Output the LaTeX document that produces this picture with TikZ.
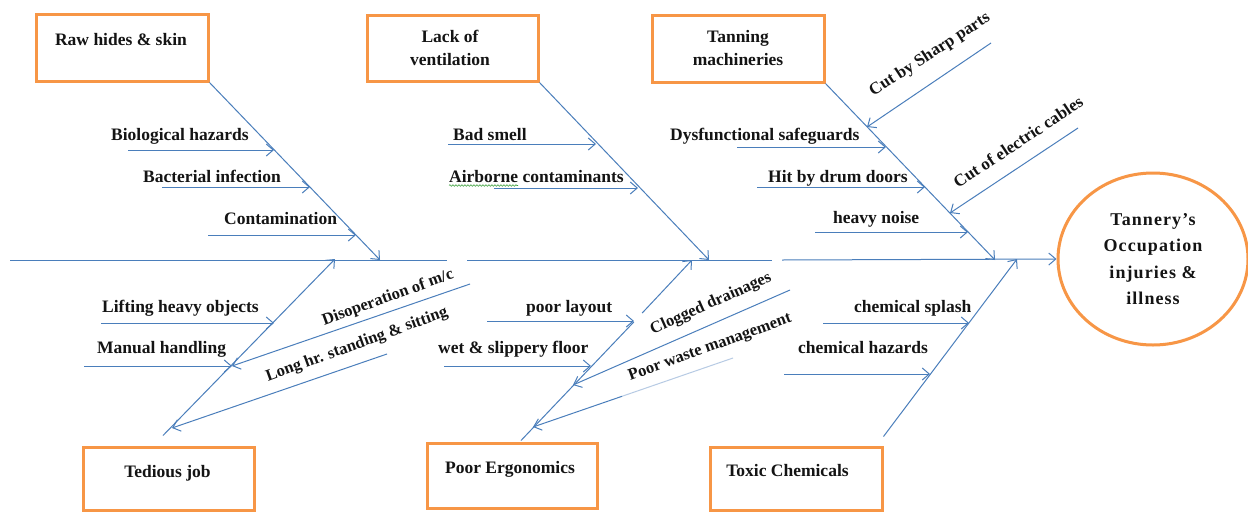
\documentclass[tikz,border=0pt]{standalone}
\usepackage{fontspec}
\setmainfont{Liberation Serif}
\newfontfamily\spacedfont[LetterSpace=6]{Liberation Serif}
\usetikzlibrary{arrows.meta,shapes.geometric,decorations.pathmorphing,calc}
\definecolor{bonec}{RGB}{74,126,187}
\definecolor{orng}{RGB}{247,150,70}
\definecolor{txt}{RGB}{20,20,20}
\definecolor{squig}{RGB}{60,160,60}
\begin{document}
\begin{tikzpicture}[x=1pt,y=-1pt,
  catbox/.style={draw=orng, line width=3pt, inner sep=0pt},
  lbl/.style={font=\fontsize{17.5}{21}\selectfont\bfseries, inner sep=0pt, text=txt},
  rlbl/.style={font=\fontsize{16.5}{20}\selectfont\bfseries, inner sep=0pt, text=txt},
  clbl/.style={font=\fontsize{17}{20}\selectfont\bfseries, inner sep=0pt, text=txt},
  bonel/.style={draw=bonec, line width=1pt},
  barrow/.style={bonel, -{Straight Barb[length=7pt,width=12pt]}}]
\useasboundingbox (0,0) rectangle (1248,512);
\fill[white] (0,0) rectangle (1248,512);

% category boxes
\node[catbox, minimum width=172pt, minimum height=67pt] (raw) at (122,47.5) {};
\node[lbl, anchor=base] (rawt) at (121,45) {Raw hides \& skin};
\node[catbox, minimum width=171pt, minimum height=66pt] (vent) at (452.5,48) {};
\node[lbl, anchor=base] (ventt1) at (450,42) {Lack of};
\node[lbl, anchor=base] (ventt2) at (450,65) {ventilation};
\node[catbox, minimum width=172pt, minimum height=67pt] (tan) at (738,48.5) {};
\node[lbl, anchor=base] (tant1) at (738,42) {Tanning};
\node[lbl, anchor=base] (tant2) at (738,65) {machineries};
\node[catbox, minimum width=171pt, minimum height=63pt] (ted) at (168.5,478.5) {};
\node[lbl, anchor=base] (tedt) at (167.5,477) {Tedious job};
\node[catbox, minimum width=170pt, minimum height=65pt] (pe) at (512,475.5) {};
\node[lbl, anchor=base] (pet) at (510,473) {Poor Ergonomics};
\node[catbox, minimum width=172pt, minimum height=63pt] (tox) at (796,478.5) {};
\node[lbl, anchor=base] (toxt) at (787.5,476) {Toxic Chemicals};

% effect
\node[draw=orng, line width=3pt, ellipse, minimum width=190pt, minimum height=172pt,
      inner sep=0pt, align=center, text=txt,
      font=\fontsize{18}{26.3}\selectfont\spacedfont\bfseries] (ell) at (1153,259)
      {Tannery’s\\Occupation\\injuries \&\\illness};

% spine
\coordinate (sp0) at (10,260);
\coordinate (g1a) at (447,260); \coordinate (g1b) at (467,260);
\coordinate (g2a) at (772,260); \coordinate (g2b) at (782,260);
\draw[bonel] (sp0) -- (g1a);
\draw[bonel] (g1b) -- (g2a);
\draw[barrow] (g2b) -- (ell.west);

% main bones
\coordinate (rawtip) at (380,260);
\draw[barrow] (raw.south east) -- (rawtip);
\coordinate (venttip) at (709,260);
\draw[barrow] (vent.south east) -- (venttip);
\coordinate (tantip) at (995,260);
\draw[barrow] (tan.south east) -- (tantip);
\coordinate (ted0) at ($(ted.north)+(-5.5,-10)$);
\coordinate (tedtip) at (335,259);
\draw[barrow] (ted0) -- (tedtip);
\coordinate (pe0) at ($(pe.north)+(9,-1)$);
\coordinate (peg1) at (633.8,322); \coordinate (peg2) at (642.2,313);
\coordinate (petip) at (692,260);
\draw[bonel] (pe0) -- (peg1);
\draw[barrow] (peg2) -- (petip);
\coordinate (tox0) at ($(tox.north east)+(0,-9)$);
\coordinate (toxtip) at (1017,259);
\draw[barrow] (tox0) -- (toxtip);

% Raw hides sub-causes
\coordinate (b1s) at (128,150); \coordinate (b1t) at (274,150);
\draw[barrow] (b1s) -- (b1t);
\node[lbl, anchor=base west] (b1) at (111,140) {Biological hazards};
\coordinate (b2s) at (162,187); \coordinate (b2t) at (310,187);
\draw[barrow] (b2s) -- (b2t);
\node[lbl, anchor=base west] (b2) at (143,182) {Bacterial infection};
\coordinate (b3s) at (208,235); \coordinate (b3t) at (356,235);
\draw[barrow] (b3s) -- (b3t);
\node[lbl, anchor=base west] (b3) at (224,224) {Contamination};

% ventilation sub-causes
\coordinate (v1s) at (448,144); \coordinate (v1t) at (596,144);
\draw[barrow] (v1s) -- (v1t);
\node[lbl, anchor=base west] (v1) at (453,140) {Bad smell};
\coordinate (v2s) at (494,188); \coordinate (v2t) at (638,188);
\draw[barrow] (v2s) -- (v2t);
\node[lbl, anchor=base west] (v2) at (449,182) {Airborne contaminants};
\coordinate (sq0) at (449,185.5); \coordinate (sq1) at (518,185.5);
\draw[squig, line width=0.6pt, decorate, decoration={snake, amplitude=0.8pt, segment length=3pt}] (sq0) -- (sq1);

% tanning sub-causes
\coordinate (t0s) at (991,43); \coordinate (t0t) at (867,127);
\draw[barrow] (t0s) -- (t0t);
\node[clbl, rotate=33] (t0) at (930,55) {Cut by Sharp parts};
\coordinate (t1s) at (737,147); \coordinate (t1t) at (886,147);
\draw[barrow] (t1s) -- (t1t);
\node[lbl, anchor=base west] (t1) at (670,140) {Dysfunctional safeguards};
\coordinate (t2s) at (757,187); \coordinate (t2t) at (925,187);
\draw[barrow] (t2s) -- (t2t);
\node[lbl, anchor=base west] (t2) at (768,182) {Hit by drum doors};
\coordinate (t3s) at (1078,128); \coordinate (t3t) at (950,213);
\draw[barrow] (t3s) -- (t3t);
\node[clbl, rotate=33.5] (t3) at (1018,142) {Cut of electric cables};
\coordinate (t4s) at (815,232); \coordinate (t4t) at (968,232);
\draw[barrow] (t4s) -- (t4t);
\node[lbl, anchor=base west] (t4) at (833,223) {heavy noise};

% tedious job sub-causes
\coordinate (d1s) at (101,323); \coordinate (d1t) at (274,323);
\draw[barrow] (d1s) -- (d1t);
\node[lbl, anchor=base west] (d1) at (102,312) {Lifting heavy objects};
\coordinate (d2s) at (84,366); \coordinate (d2t) at (232,366);
\draw[barrow] (d2s) -- (d2t);
\node[lbl, anchor=base west] (d2) at (97,353) {Manual handling};
\coordinate (d3s) at (470,284);
\draw[barrow] (d3s) -- (d2t);
\node[rlbl, rotate=20] (d3) at (388,298) {Disoperation of m/c};
\coordinate (d4s) at (387,354); \coordinate (d4t) at (172,428);
\draw[barrow] (d4s) -- (d4t);
\node[rlbl, rotate=20] (d4) at (357,345) {Long hr. standing \& sitting};

% poor ergonomics sub-causes
\coordinate (p1s) at (487,321); \coordinate (p1t) at (634,321);
\draw[barrow] (p1s) -- (p1t);
\node[lbl, anchor=base west] (p1) at (526,312) {poor layout};
\coordinate (p2s) at (444,366); \coordinate (p2t) at (591,366);
\draw[barrow] (p2s) -- (p2t);
\node[lbl, anchor=base west] (p2) at (438,353) {wet \& slippery floor};
\coordinate (p3s) at (790,290); \coordinate (p3t) at (573,385);
\draw[barrow] (p3s) -- (p3t);
\node[rlbl, rotate=24] (p3) at (711,304) {Clogged drainages};
\coordinate (p4s) at (733,358); \coordinate (p4m) at (622,396.3); \coordinate (p4t) at (533,427);
\draw[bonel, draw=bonec!40] (p4s) -- (p4m);
\draw[barrow] (p4m) -- (p4t);
\node[rlbl, rotate=20] (p4) at (710,348) {Poor waste management};

% toxic chemicals sub-causes
\coordinate (c1s) at (823,323); \coordinate (c1t) at (969,323);
\draw[barrow] (c1s) -- (c1t);
\node[lbl, anchor=base west] (c1) at (854,312) {chemical splash};
\coordinate (c2s) at (784,374); \coordinate (c2t) at (930,374);
\draw[barrow] (c2s) -- (c2t);
\node[lbl, anchor=base west] (c2) at (798,353) {chemical hazards};
\end{tikzpicture}
\end{document}
